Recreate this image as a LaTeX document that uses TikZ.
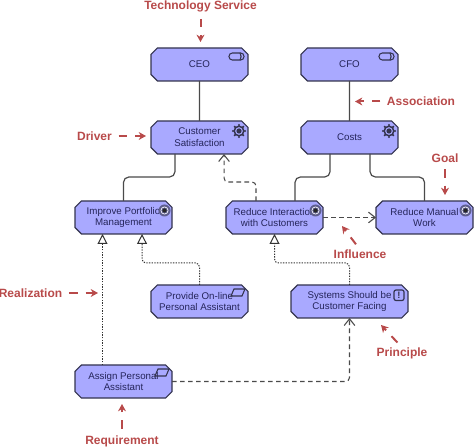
\documentclass[tikz,border=0pt]{standalone}
\usepackage{fontspec}
\setmainfont{Liberation Sans}
\usetikzlibrary{positioning,arrows.meta,shapes.misc}
\definecolor{elemfill}{HTML}{A9A9FF}
\definecolor{elemline}{HTML}{34344F}
\definecolor{elemtext}{HTML}{25255A}
\definecolor{linkgray}{HTML}{4A4A4A}
\definecolor{noterred}{HTML}{B84A4A}
\definecolor{goalgray}{HTML}{5E5E8E}

\tikzset{
    icon/.style={draw=elemline, line width=0.8pt},
    svcicon/.pic={
        \draw[icon, rounded corners=2.5pt] (-19,5) rectangle (-4,12);
        \draw[icon] (-8,5) .. controls (-6.5,7) and (-6.5,10) .. (-8,12);
    },
    geariconn/.pic={
        \draw[icon, line width=1.1pt] (-9,10) circle[radius=4.8];
        \fill[elemline] (-9,10) circle[radius=2.6];
        \foreach \a in {0,45,...,315} {
            \fill[elemline] (-9,10) ++(\a:6) circle[radius=1.1];
        }
    },
    goalicon/.pic={
        \fill[goalgray] (-7.5,9.5) circle[radius=6];
        \draw[white, line width=0.5pt] (-7.5,9.5) circle[radius=3.6];
        \fill[black!85] (-7.5,9.5) circle[radius=2.1];
    },
    reqicon/.pic={
        \draw[icon] (-14,4) -- (-3,4) -- (-6,11) -- (-17,11) -- cycle;
    },
    prinicon/.pic={
        \draw[icon, line width=0.9pt, rounded corners=1.5pt] (-14,5) rectangle (-4,15.5);
        \node[font=\fontsize{7}{7}\selectfont\bfseries, text=elemline, inner sep=0pt] (bang) at (-9,10.3) {!};
    }
}

\begin{document}
\begin{tikzpicture}[
    x=0.75pt,
    y=-0.75pt,
    elem/.style={
        draw=elemline,
        fill=elemfill,
        line width=0.9pt,
        chamfered rectangle,
        chamfered rectangle xsep=2.4pt,
        chamfered rectangle ysep=2.4pt,
        minimum width=72.75pt,
        minimum height=24.75pt,
        inner sep=0pt,
        outer sep=0pt,
        align=center,
        text=elemtext,
        font=\fontsize{7.3}{8.9}\selectfont
    },
    wide/.style={elem, minimum width=87.75pt},
    assoc/.style={draw=linkgray, line width=0.9pt, rounded corners=4pt},
    infl/.style={draw=linkgray, line width=0.8pt, rounded corners=3pt,
        dash pattern=on 3.5pt off 2.5pt, -{Straight Barb[length=5pt,width=8pt]}},
    realz/.style={draw=black!80, line width=0.75pt, rounded corners=3pt,
        dash pattern=on 1pt off 1pt, -{Triangle[open,fill=white,length=7.5pt,width=7.5pt]}},
    notelabel/.style={text=noterred, inner sep=0pt, outer sep=0pt,
        font=\fontsize{9}{10}\selectfont\bfseries},
    note/.style={draw=noterred, line width=1.5pt, shorten <=5pt,
        dash pattern=on 6.5pt off 6pt on 10pt, -{Stealth[length=5.5pt,width=6pt]}}
]
\useasboundingbox (0,0) rectangle (474,448);

% ============================================================
% ELEMENTS
% ============================================================
\node[elem] (ceo) at (199.5,64.5) {CEO};
\node[elem] (csat) at (199.5,137.5) {Customer\\Satisfaction};
\node[elem] (cfo) at (349.5,64.5) {CFO};
\node[elem] (costs) at (349.5,137.5) {Costs};

\node[elem] (improve) at (123.5,217.5) {Improve Portfolio\\Management};
\node[elem] (rint) at (274.5,217.5) {Reduce Interaction\\with Customers};
\node[elem] (rman) at (424.5,217.5) {Reduce Manual\\Work};

\node[elem] (provide) at (199.5,301.5) {Provide On-line\\Personal Assistant};
\node[wide] (sysf) at (349.5,301.5) {Systems Should be\\Customer Facing};
\node[elem] (assign) at (123.5,381.5) {Assign Personal\\Assistant};

% ============================================================
% ICONS
% ============================================================
\pic at (ceo.east |- ceo.north) {svcicon};
\pic at (cfo.east |- cfo.north) {svcicon};
\pic at (csat.east |- csat.north) {geariconn};
\pic at (costs.east |- costs.north) {geariconn};
\pic at (improve.east |- improve.north) {goalicon};
\pic at (rint.east |- rint.north) {goalicon};
\pic at (rman.east |- rman.north) {goalicon};
\pic at (provide.east |- provide.north) {reqicon};
\pic at (assign.east |- assign.north) {reqicon};
\pic at (sysf.east |- sysf.north) {prinicon};

% ============================================================
% CONNECTORS
% ============================================================
\draw[assoc] (ceo) -- (csat);
\draw[assoc] (cfo) -- (costs);
\draw[assoc] ([xshift=-18.4pt]csat.south) -- ++(0,23) -| (improve.north);
\draw[assoc] ([xshift=-14.6pt]costs.south) -- ++(0,23) -| ([xshift=15.4pt]rint.north);
\draw[assoc] ([xshift=15.4pt]costs.south) -- ++(0,23) -| (rman.north);

\draw[infl] ([xshift=-13.9pt]rint.north) -- ++(0,-19) -| ([xshift=18.4pt]csat.south);
\draw[infl] (rint.east) -- (rman.west);
\draw[infl] (assign.east) -| (sysf.south);

\draw[realz] ([xshift=-15.75pt]assign.north) -- ([xshift=-15.75pt]improve.south);
\draw[realz] (provide.north) -- ++(0,-22) -| ([xshift=13.9pt]improve.south);
\draw[realz] (sysf.north) -- ++(0,-22) -| (rint.south);

% ============================================================
% ANNOTATIONS
% ============================================================
\node[notelabel] (tsvclabel) at (200.5,6.5) {Technology Service};
\node[notelabel] (driverlabel) at (94.5,136) {Driver};
\node[notelabel] (assoclabel) at (421,101.5) {Association};
\node[notelabel] (goallabel) at (445,158) {Goal};
\node[notelabel] (infllabel) at (360,254) {Influence};
\node[notelabel] (prinlabel) at (402,353) {Principle};
\node[notelabel] (realzlabel) at (30.5,293) {Realization};
\node[notelabel] (reqlabel) at (122,441) {Requirement};

\coordinate (tsvctip) at (200.5,42);
\coordinate (drivertip) at (146,136);
\coordinate (assoctip) at (355,101.5);
\coordinate (goaltip) at (445,195);
\coordinate (infltip) at (342,226);
\coordinate (printip) at (381,325);
\coordinate (realztip) at (98,293);
\coordinate (reqtip) at (122,404);

\draw[note] (tsvclabel.south) -- (tsvctip);
\draw[note] (driverlabel.east) -- (drivertip);
\draw[note] (assoclabel.west) -- (assoctip);
\draw[note] (goallabel.south) -- (goaltip);
\draw[note] (infllabel.north) -- (infltip);
\draw[note] (prinlabel.north) -- (printip);
\draw[note] (realzlabel.east) -- (realztip);
\draw[note] (reqlabel.north) -- (reqtip);

\end{tikzpicture}
\end{document}
